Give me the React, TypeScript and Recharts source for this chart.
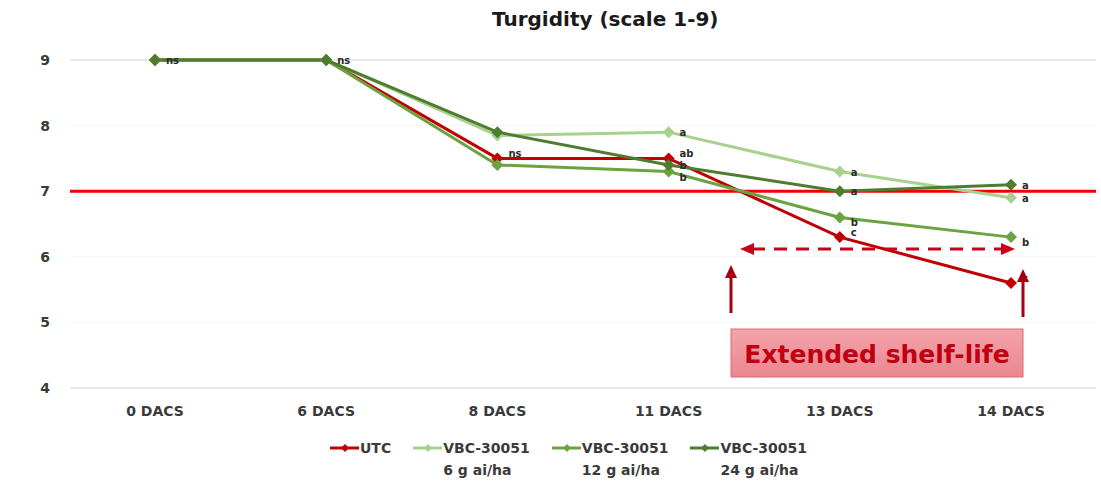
import { CartesianGrid, LabelList, Line, LineChart, ReferenceLine, XAxis, YAxis } from "recharts";

const categories = ["0 DACS", "6 DACS", "8 DACS", "11 DACS", "13 DACS", "14 DACS"];
const utc = [9, 9, 7.5, 7.5, 6.3, 5.6];
const vbc6 = [9, 9, 7.85, 7.9, 7.3, 6.9];
const vbc12 = [9, 9, 7.4, 7.3, 6.6, 6.3];
const vbc24 = [9, 9, 7.9, 7.4, 7.0, 7.1];
const utcLetters = ["", "", "ns", "ab", "c", "c"];
const vbc6Letters = ["", "", "", "a", "a", "a"];
const vbc12Letters = ["", "", "", "b", "b", "b"];
const vbc24Letters = ["ns", "ns", "", "b", "a", "a"];
const yTicks = [4, 5, 6, 7, 8, 9];
const threshold = 7;

const series = [
  { key: "utc", name: "UTC", sub: "", color: "#c00000", dy: -5 },
  { key: "vbc6", name: "VBC-30051", sub: "6 g ai/ha", color: "#a9d18e", dy: 0 },
  { key: "vbc12", name: "VBC-30051", sub: "12 g ai/ha", color: "#6aa33f", dy: 5 },
  { key: "vbc24", name: "VBC-30051", sub: "24 g ai/ha", color: "#4f7d2f", dy: 0 },
];

const data = categories.map((c, i) => ({
  cat: c,
  utc: utc[i],
  vbc6: vbc6[i],
  vbc12: vbc12[i],
  vbc24: vbc24[i],
  utcL: utcLetters[i],
  vbc6L: vbc6Letters[i],
  vbc12L: vbc12Letters[i],
  vbc24L: vbc24Letters[i],
}));

const FONT = "'DejaVu Sans', 'Liberation Sans', sans-serif";
const tickStyle = { fontSize: 14, fontWeight: 700, fill: "#3a3a3a", fontFamily: FONT };

function diamond(color: string, r = 6) {
  return (props: { cx?: number; cy?: number; index?: number }) => {
    const { cx, cy, index } = props;
    if (cx == null || cy == null) return <g key={index} />;
    return (
      <polygon
        key={index}
        points={`${cx},${cy - r} ${cx + r},${cy} ${cx},${cy + r} ${cx - r},${cy}`}
        fill={color}
      />
    );
  };
}

const letter = (dy: number) => (props: { x?: number; y?: number; value?: string | number }) => {
  const { x, y, value } = props;
  if (!value || x == null || y == null) return null;
  return (
    <text x={Number(x) + 11} y={Number(y) + 4 + dy} fontSize={10} fontWeight={700} fill="#2a2a2a" fontFamily={FONT}>
      {value}
    </text>
  );
};

function LegendRow() {
  return (
    <div style={{ position: "absolute", top: 438, left: 330, display: "flex", gap: 22, fontFamily: FONT, fontSize: 14, fontWeight: 700, color: "#3a3a3a" }}>
      {series.map((s) => (
        <div key={s.key} style={{ display: "flex", alignItems: "flex-start" }}>
          <svg width={29} height={20} style={{ marginRight: 1 }}>
            <line x1={0} y1={10} x2={29} y2={10} stroke={s.color} strokeWidth={3} />
            <polygon points="15,6 19,10 15,14 11,10" fill={s.color} />
          </svg>
          <div style={{ lineHeight: "22px", marginTop: -1 }}>
            <div>{s.name}</div>
            {s.sub && <div>{s.sub}</div>}
          </div>
        </div>
      ))}
    </div>
  );
}

function Annotations() {
  const dark = "#a50010";
  const red = "#c8001a";
  return (
    <svg width={1101} height={481} style={{ position: "absolute", left: 0, top: 0, pointerEvents: "none" }}>
      <defs>
        <linearGradient id="boxFill" x1="0" y1="0" x2="0" y2="1">
          <stop offset="0" stopColor="#f4a3aa" />
          <stop offset="1" stopColor="#ea8790" />
        </linearGradient>
      </defs>
      <line x1={752} y1={249} x2={1003} y2={249} stroke={red} strokeWidth={3} strokeDasharray="13 9" />
      <polygon points="740,249 754,243 754,255" fill={red} />
      <polygon points="1015,249 1001,243 1001,255" fill={red} />
      <line x1={731} y1={276} x2={731} y2={313} stroke={dark} strokeWidth={3} />
      <polygon points="731,265 725,278 737,278" fill={dark} />
      <line x1={1023} y1={280} x2={1023} y2={317} stroke={dark} strokeWidth={3} />
      <polygon points="1023,269 1017,282 1029,282" fill={dark} />
      <rect x={731} y={329} width={292} height={48} fill="url(#boxFill)" stroke="#d86a74" strokeWidth={1} />
      <text x={877} y={363} textAnchor="middle" fontSize={25} fontWeight={700} fill="#c00010" fontFamily={FONT}>
        Extended shelf-life
      </text>
    </svg>
  );
}

export default function App() {
  return (
    <div style={{ position: "relative", width: 1101, height: 481, background: "#fff", fontFamily: FONT }}>
      <style>{"body{margin:0}"}</style>
      <div style={{ position: "absolute", top: 7, left: 492, fontSize: 20, fontWeight: 700, color: "#1a1a1a", whiteSpace: "nowrap" }}>
        Turgidity (scale 1-9)
      </div>
      <LineChart width={1101} height={481} data={data} margin={{ top: 60, right: 5, bottom: 63, left: 0 }}>
        <CartesianGrid vertical={false} stroke="#f4f4f4" />
        <ReferenceLine y={9} stroke="#d9d9d9" />
        <ReferenceLine y={4} stroke="#d9d9d9" />
        <XAxis
          dataKey="cat"
          padding={{ left: 85, right: 85 }}
          axisLine={false}
          tickLine={false}
          tickSize={6}
          tickMargin={12}
          tick={tickStyle}
        />
        <YAxis
          domain={[4, 9]}
          ticks={yTicks}
          width={70}
          axisLine={false}
          tickLine={false}
          tickSize={0}
          tickMargin={20}
          tick={tickStyle}
        />
        <ReferenceLine y={threshold} stroke="#f00000" strokeWidth={3} />
        {series.map((s) => (
          <Line
            key={s.key}
            dataKey={s.key}
            stroke={s.color}
            strokeWidth={3}
            dot={diamond(s.color)}
            activeDot={false}
            isAnimationActive={false}
          >
            <LabelList dataKey={`${s.key}L`} content={letter(s.dy)} />
          </Line>
        ))}
      </LineChart>
      <Annotations />
      <LegendRow />
    </div>
  );
}
